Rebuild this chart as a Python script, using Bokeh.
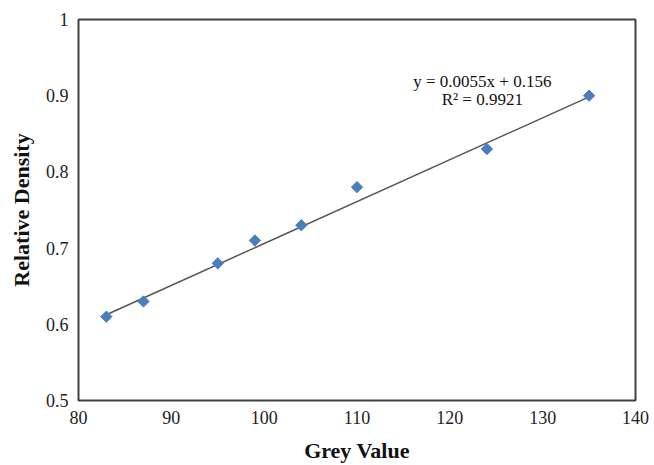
import math
from bokeh.plotting import figure
from bokeh.models import ColumnDataSource, Label, FixedTicker, Range1d
from bokeh.embed import file_html
from bokeh.resources import INLINE

grey_value = [83, 87, 95, 99, 104, 110, 124, 135]
relative_density = [0.61, 0.63, 0.68, 0.71, 0.73, 0.78, 0.83, 0.90]
slope = 0.0055
intercept = 0.156
r_squared = 0.9921
x_ticks = [80, 90, 100, 110, 120, 130, 140]
y_ticks = [0.5, 0.6, 0.7, 0.8, 0.9, 1.0]
y_tick_labels = ["0.5", "0.6", "0.7", "0.8", "0.9", "1"]

FONT = "Liberation Serif"

p = figure(width=654, height=465, output_backend="svg", toolbar_location=None,
           x_range=Range1d(80, 140), y_range=Range1d(0.5, 1.0),
           min_border_left=78, min_border_right=19, min_border_top=19, min_border_bottom=62)
p.background_fill_color = "white"
p.border_fill_color = "white"
p.outline_line_color = "#404040"
p.outline_line_width = 2
p.xgrid.visible = False
p.ygrid.visible = False

for ax in (p.xaxis[0], p.yaxis[0]):
    ax.axis_line_color = None
    ax.major_tick_line_color = None
    ax.minor_tick_line_color = None
    ax.major_tick_out = 0
    ax.major_tick_in = 0
    ax.major_label_text_font = FONT
    ax.major_label_text_font_size = "18px"
    ax.major_label_text_color = "#222222"
    ax.axis_label_text_font = FONT
    ax.axis_label_text_font_style = "bold"
    ax.axis_label_text_font_size = "22px"
    ax.axis_label_text_color = "#111111"

p.xaxis.ticker = FixedTicker(ticks=x_ticks)
p.yaxis.ticker = FixedTicker(ticks=y_ticks)
p.yaxis.major_label_overrides = {t: l for t, l in zip(y_ticks, y_tick_labels)}
p.xaxis.major_label_standoff = 10
p.yaxis.major_label_standoff = 10
p.xaxis.axis_label = "Grey Value"
p.yaxis.axis_label = "Relative Density"
p.xaxis.axis_label_standoff = 11
p.yaxis.axis_label_standoff = 9

# trendline over the data range
x0, x1 = min(grey_value), max(grey_value)
p.line([x0, x1], [slope * x0 + intercept, slope * x1 + intercept],
       line_color="#555555", line_width=1.5)

src = ColumnDataSource(dict(x=grey_value, y=relative_density))
p.scatter("x", "y", source=src, marker="square", size=8, angle=math.pi / 4,
          fill_color="#4A7EBB", line_color="#4A7EBB")

eq = Label(x=123.5, y=0.919, text=f"y = {slope}x + {intercept}",
           text_font=FONT, text_font_size="17px", text_align="center",
           text_baseline="middle", text_color="#111111")
r2 = Label(x=123.5, y=0.8945, text=f"R² = {r_squared}",
           text_font=FONT, text_font_size="17px", text_align="center",
           text_baseline="middle", text_color="#111111")
p.add_layout(eq)
p.add_layout(r2)

open("out.html", "w").write(file_html(p, INLINE))
